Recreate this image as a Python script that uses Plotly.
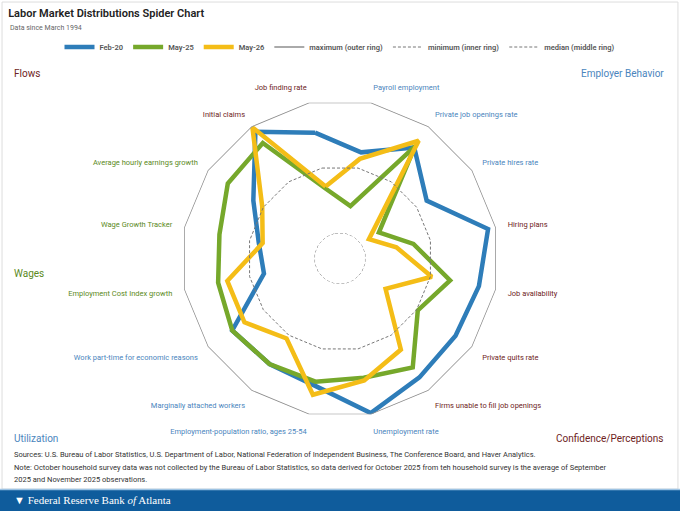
import plotly.graph_objects as go

# categories in clockwise order, starting just left of the top
categories = [
    "Job finding rate", "Payroll employment", "Private job openings rate",
    "Private hires rate", "Hiring plans", "Job availability", "Private quits rate",
    "Firms unable to fill job openings", "Unemployment rate",
    "Employment-population ratio, ages 25-54", "Marginally attached workers",
    "Work part-time for economic reasons", "Employment Cost Index growth",
    "Wage Growth Tracker", "Average hourly earnings growth", "Initial claims",
]
groups = [
    "Flows", "Employer Behavior", "Employer Behavior", "Employer Behavior",
    "Confidence/Perceptions", "Confidence/Perceptions", "Confidence/Perceptions",
    "Confidence/Perceptions", "Utilization", "Utilization", "Utilization",
    "Utilization", "Wages", "Wages", "Wages", "Flows",
]

# position within the distribution since 1994 (0 = minimum, 1 = maximum)
feb20 = [0.77, 0.62, 0.81, 0.59, 0.94, 0.87, 0.85, 0.88, 0.99, 0.78, 0.76, 0.78, 0.39, 0.43, 0.59, 0.95]
may25 = [0.34, 0.21, 0.82, 0.16, 0.37, 0.65, 0.51, 0.79, 0.72, 0.75, 0.76, 0.78, 0.74, 0.73, 0.82, 0.85]
may26 = [0.36, 0.57, 0.87, 0.07, 0.24, 0.51, 0.22, 0.63, 0.74, 0.85, 0.53, 0.67, 0.67, 0.40, 0.51, 0.99]
maximum = [1.0] * 16
minimum = [0.0] * 16
median = [0.5] * 16

group_colors = {
    "Flows": "#6e2323",
    "Employer Behavior": "#4a85bd",
    "Confidence/Perceptions": "#6e2323",
    "Utilization": "#4a85bd",
    "Wages": "#5b8a1c",
}

FONT = "Roboto, Noto Sans, sans-serif"


def closed(vals):
    return list(vals) + [vals[0]]


fig = go.Figure()

series = [
    ("Feb-20", feb20, "#2e7db9"),
    ("May-25", may25, "#76a82b"),
    ("May-26", may26, "#f4bd17"),
]
for name, vals, color in series:
    fig.add_trace(go.Scatterpolar(
        r=closed(vals), theta=closed(categories), mode="lines", name=name,
        line=dict(color=color, width=4.5),
    ))

rings = [
    ("maximum (outer ring)", maximum, "#8e8e8e", "solid", 1.5),
    ("minimum (inner ring)", minimum, "#777777", "3px,2px", 1),
    ("median (middle ring)", median, "#777777", "3px,2px", 1),
]
for name, vals, color, dash, width in rings:
    fig.add_trace(go.Scatterpolar(
        r=closed(vals), theta=closed(categories), mode="lines", name=name,
        line=dict(color=color, width=width, dash=dash),
    ))

ticktext = [
    f"<span style='color:{group_colors[g]}'>{c}</span>" for c, g in zip(categories, groups)
]

fig.update_layout(
    width=680, height=511,
    margin=dict(l=0, r=0, t=0, b=0),
    paper_bgcolor="white",
    font=dict(family=FONT, color="#333333"),
    showlegend=True,
    legend=dict(
        orientation="h", x=0.5, xanchor="center", y=0.908, yanchor="middle",
        font=dict(size=7.5, color="#555555", weight=600),
        itemwidth=30, tracegroupgap=0,
    ),
    title=dict(
        text="Labor Market Distributions Spider Chart",
        x=0.012, xanchor="left", y=0.975, yanchor="middle",
        font=dict(size=11, color="#222222", weight=600),
    ),
    polar=dict(
        domain=dict(x=[0.2662, 0.7338], y=[0.1830, 0.8053]),
        bgcolor="white",
        gridshape="linear",
        hole=0.16,
        radialaxis=dict(range=[0, 1], visible=False),
        angularaxis=dict(
            type="category", categoryorder="array", categoryarray=categories,
            rotation=101.25, direction="clockwise",
            showgrid=False, showline=False,
            ticks="outside", ticklen=10, tickcolor="rgba(0,0,0,0)",
            tickmode="array", tickvals=categories, ticktext=ticktext,
            tickfont=dict(size=7.5, family=FONT),
        ),
    ),
)

annotations = [
    dict(text="Data since March 1994", x=0.012, y=0.945, xanchor="left",
         font=dict(size=7, color="#666666")),
    dict(text="Flows", x=0.018, y=0.857, xanchor="left",
         font=dict(size=10, color=group_colors["Flows"])),
    dict(text="Employer Behavior", x=0.979, y=0.857, xanchor="right",
         font=dict(size=10, color=group_colors["Employer Behavior"])),
    dict(text="Wages", x=0.018, y=0.464, xanchor="left",
         font=dict(size=10, color=group_colors["Wages"])),
    dict(text="Utilization", x=0.018, y=0.141, xanchor="left",
         font=dict(size=10, color=group_colors["Utilization"])),
    dict(text="Confidence/Perceptions", x=0.979, y=0.141, xanchor="right",
         font=dict(size=10, color=group_colors["Confidence/Perceptions"])),
    dict(text="Sources: U.S. Bureau of Labor Statistics, U.S. Department of Labor, National Federation of Independent Business, The Conference Board, and Haver Analytics.",
         x=0.018, y=0.110, xanchor="left", font=dict(size=7.5, color="#333333")),
    dict(text="Note: October household survey data was not collected by the Bureau of Labor Statistics, so data derived for October 2025 from teh household survey is the average of September",
         x=0.018, y=0.086, xanchor="left", font=dict(size=7.5, color="#333333")),
    dict(text="2025 and November 2025 observations.",
         x=0.018, y=0.061, xanchor="left", font=dict(size=7.5, color="#333333")),
    dict(text="\u25bc Federal Reserve Bank <i>of</i> Atlanta",
         x=0.018, y=0.022, xanchor="left", font=dict(size=11, color="white", family="Liberation Serif")),
]
for a in annotations:
    a.update(xref="paper", yref="paper", yanchor="middle", showarrow=False)
fig.update_layout(annotations=annotations)

fig.update_layout(shapes=[
    dict(type="rect", xref="paper", yref="paper", x0=0.003, x1=0.997, y0=0.043, y1=0.996,
         line=dict(color="#dddddd", width=1), fillcolor="rgba(0,0,0,0)", layer="below"),
    dict(type="rect", xref="paper", yref="paper", x0=0, x1=1, y0=0, y1=0.041,
         line=dict(width=0), fillcolor="#0f5c9c"),
    dict(type="line", xref="paper", yref="paper", x0=0, x1=1, y0=0.042, y1=0.042,
         line=dict(color="#9cc3e4", width=1.5)),
])

# drop the browser's default page margin so the figure sits at the window's corner
fig.write_html(
    "out.html",
    config={"displayModeBar": False},
    post_script="document.body.style.margin = '0';",
)
